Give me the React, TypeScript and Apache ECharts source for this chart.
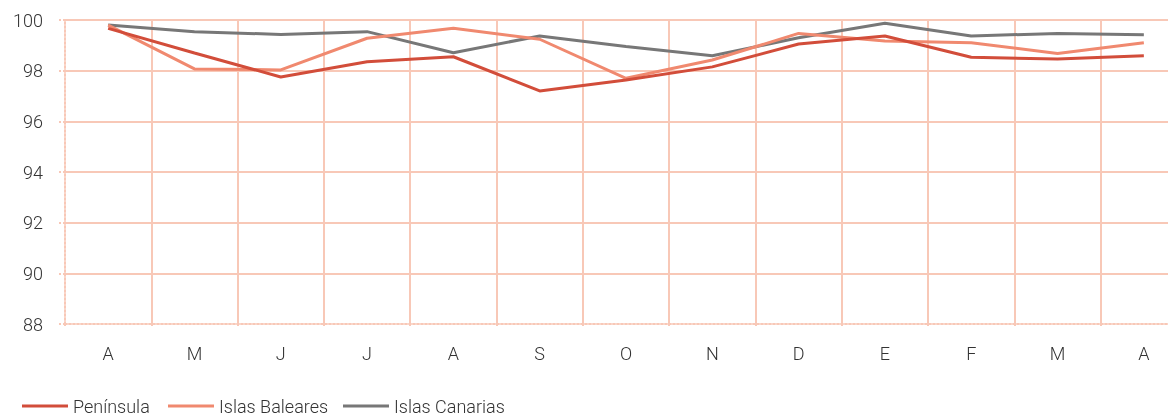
import React, { useEffect, useRef } from "react";
import * as echarts from "echarts";

const months = ["A", "M", "J", "J", "A", "S", "O", "N", "D", "E", "F", "M", "A"];
const peninsula = [99.67, 98.7, 97.75, 98.35, 98.55, 97.2, 97.63, 98.15, 99.05, 99.37, 98.53, 98.46, 98.59];
const baleares = [99.8, 98.07, 98.03, 99.28, 99.67, 99.24, 97.7, 98.42, 99.47, 99.17, 99.1, 98.68, 99.1];
const canarias = [99.8, 99.54, 99.43, 99.54, 98.71, 99.37, 98.95, 98.59, 99.3, 99.87, 99.37, 99.47, 99.42];

const seriesNames = ["Península", "Islas Baleares", "Islas Canarias"];
const seriesColors = ["#d24d3a", "#f0896f", "#777777"];

const FONT = "Roboto, 'Liberation Sans', sans-serif";
const GRID = "#f8c8b7";
const TEXT = "#333333";

export default function App() {
  const ref = useRef<HTMLDivElement>(null);

  useEffect(() => {
    if (!ref.current) return;
    const chart = echarts.init(ref.current, undefined, { renderer: "svg" });
    const values = [peninsula, baleares, canarias];
    const legendLefts = [22, 168, 343];
    const labelStyle = { color: TEXT, fontSize: 18, fontFamily: FONT, fontWeight: 300 };
    chart.setOption({
      animation: false,
      textStyle: { fontFamily: FONT },
      grid: { left: 65, right: 13, top: 20, bottom: 92 },
      legend: seriesNames.map((name, i) => ({
        data: [name],
        left: legendLefts[i],
        top: 397,
        padding: 0,
        icon: "rect",
        itemWidth: 46,
        itemHeight: 3,
        itemGap: 4,
        textStyle: { ...labelStyle, padding: [0, 0, 0, 0] },
      })),
      xAxis: {
        type: "category",
        data: months,
        boundaryGap: true,
        axisLine: { show: true, lineStyle: { color: GRID, width: 2, type: [2, 2] } },
        axisTick: { show: true, length: 4, lineStyle: { color: GRID, width: 2, type: [2, 2] } },
        axisLabel: { ...labelStyle, margin: 20 },
        splitLine: { show: true, showMinLine: false, lineStyle: { color: GRID, width: 2 } },
      },
      yAxis: {
        type: "value",
        min: 88,
        max: 100,
        interval: 2,
        axisLine: { show: true, lineStyle: { color: GRID, width: 2, type: [2, 2] } },
        axisTick: { show: true, length: 7, lineStyle: { color: GRID, width: 2, type: [2, 2] } },
        axisLabel: { ...labelStyle, margin: 22 },
        splitLine: { show: true, showMinLine: false, lineStyle: { color: GRID, width: 2 } },
      },
      series: seriesNames.map((name, i) => ({
        name,
        type: "line",
        data: values[i],
        symbol: "none",
        color: seriesColors[i],
        lineStyle: { color: seriesColors[i], width: 3 },
        z: 3 + (2 - i),
      })),
    });
    return () => chart.dispose();
  }, []);

  return (
    <div
      ref={ref}
      style={{ position: "fixed", left: 0, top: 0, width: 1200, height: 416 }}
    />
  );
}
